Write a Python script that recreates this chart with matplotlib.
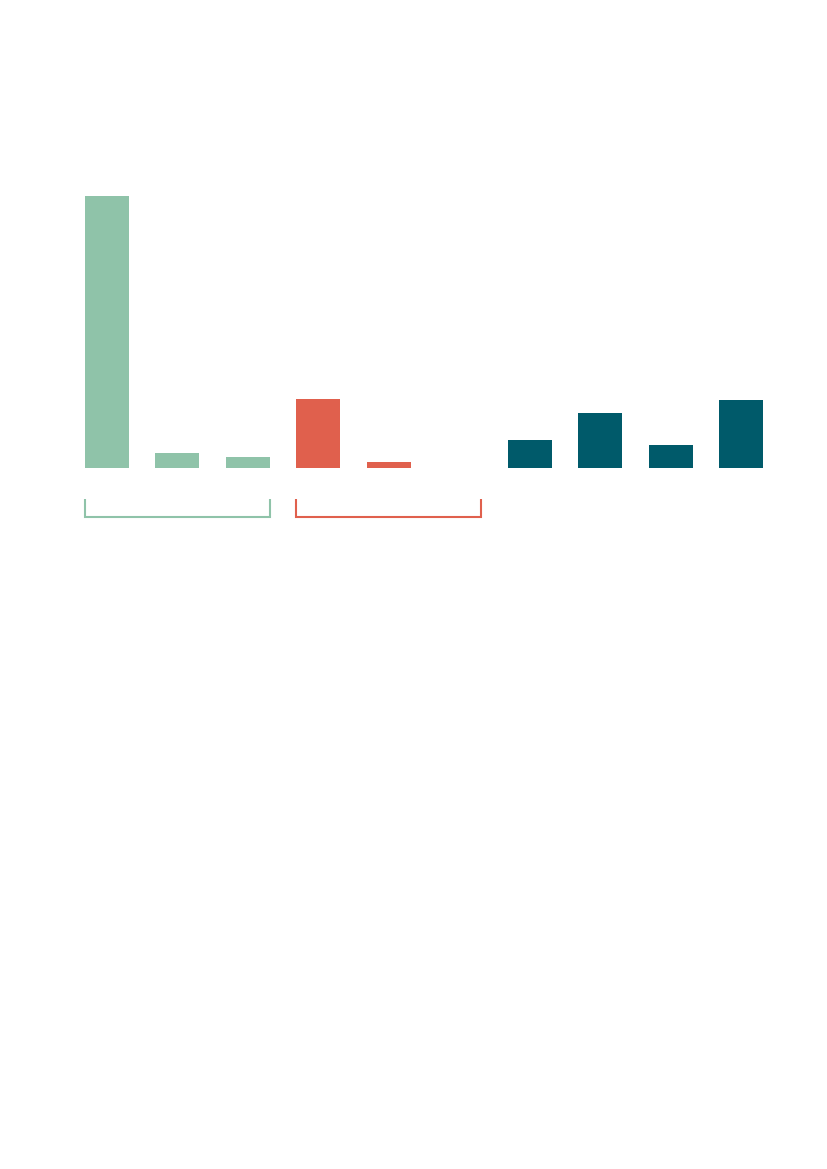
import matplotlib
matplotlib.use("Agg")
import matplotlib.pyplot as plt

# Data (relative values)
green_values = [100.0, 5.3, 3.9]
red_values = [25.4, 2.1, 0.0]
teal_values = [10.2, 20.1, 8.3, 25.0]

green_color = "#8fc3a9"
red_color = "#e0604d"
teal_color = "#005a6a"

fig = plt.figure(figsize=(8.27, 11.69), dpi=100)
W, H = 827, 1169
left_px, right_px = 71.8, 776.2
base_px, top_px = 467.8, 196.0
ax = fig.add_axes([left_px / W, (H - base_px) / H,
                   (right_px - left_px) / W, (base_px - top_px) / H])

bw = 0.625
g_x = list(range(0, 3))
r_x = list(range(3, 6))
t_x = list(range(6, 10))

ax.bar(g_x, green_values, width=bw, color=green_color, linewidth=0)
ax.bar(r_x, red_values, width=bw, color=red_color, linewidth=0)
ax.bar(t_x, teal_values, width=bw, color=teal_color, linewidth=0)

ax.set_xlim(-0.5, 9.5)
ax.set_ylim(0, 100)
ax.axis("off")

# Group brackets below the bars
y_top, y_bot = -11.5, -18.0
def bracket(x0, x1, color):
    ax.plot([x0, x0, x1, x1], [y_top, y_bot, y_bot, y_top], color=color,
            lw=1.5, clip_on=False, solid_joinstyle="miter", solid_capstyle="butt")

bracket(g_x[0] - bw / 2, g_x[-1] + bw / 2, green_color)
bracket(r_x[0] - bw / 2, r_x[-1] + bw / 2, red_color)

fig.savefig("out.png", dpi=100)
